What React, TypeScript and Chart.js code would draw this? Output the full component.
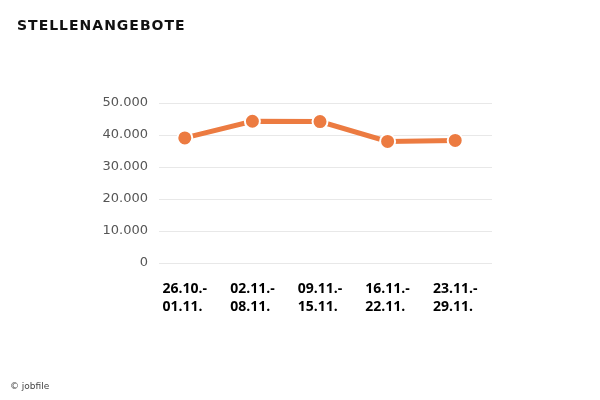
import React, { useEffect, useRef } from "react";
import { Chart, registerables } from "chart.js";

Chart.register(...registerables);

const title = "STELLENANGEBOTE";
const source = "© jobfile";
const categories: string[][] = [
  ["26.10.-", "01.11."],
  ["02.11.-", "08.11."],
  ["09.11.-", "15.11."],
  ["16.11.-", "22.11."],
  ["23.11.-", "29.11."],
];
const values = [39100, 44300, 44200, 38000, 38300];
const yTicks = [0, 10000, 20000, 30000, 40000, 50000];

const ORANGE = "#EC7B41";

const customPlugin = {
  id: "customAxes",
  beforeDatasetsDraw(chart: any) {
    const { ctx, chartArea, scales } = chart;
    ctx.save();
    ctx.strokeStyle = "#e8e8e8";
    ctx.lineWidth = 1;
    for (const v of yTicks) {
      const y = Math.round(scales.y.getPixelForValue(v)) + 0.5;
      ctx.beginPath();
      ctx.moveTo(chartArea.left + 8, y);
      ctx.lineTo(chartArea.right + 3, y);
      ctx.stroke();
    }
    ctx.restore();
  },
  afterDraw(chart: any) {
    const { ctx, chartArea, scales } = chart;
    ctx.save();
    ctx.fillStyle = "#000";
    ctx.font = "bold 14px 'Open Sans'";
    ctx.textAlign = "left";
    ctx.textBaseline = "alphabetic";
    categories.forEach((lines, i) => {
      const x = scales.x.getPixelForValue(i);
      const w = Math.max(...lines.map((l) => ctx.measureText(l).width));
      const left = x - w / 2;
      lines.forEach((l, j) => {
        ctx.fillText(l, left, chartArea.bottom + 30 + j * 18.4);
      });
    });
    ctx.restore();
  },
};

export default function App() {
  const ref = useRef<HTMLCanvasElement>(null);
  useEffect(() => {
    if (!ref.current) return;
    const chart = new Chart(ref.current, {
      type: "line",
      data: {
        labels: categories.map((c) => c.join(" ")),
        datasets: [
          {
            data: values,
            borderColor: ORANGE,
            backgroundColor: ORANGE,
            borderWidth: 5,
            pointRadius: 7.5,
            pointBorderColor: "#ffffff",
            pointBorderWidth: 2,
            pointBackgroundColor: ORANGE,
            tension: 0,
          },
        ],
      },
      options: {
        responsive: false,
        animation: false,
        devicePixelRatio: 1,
        layout: { padding: { top: 103, right: 111, left: 0, bottom: 50 } },
        plugins: { legend: { display: false }, tooltip: { enabled: false }, title: { display: false } },
        scales: {
          x: {
            offset: true,
            grid: { display: false },
            border: { display: false },
            ticks: { display: false },
            afterFit: (s: any) => {
              s.height = 87;
            },
          },
          y: {
            min: 0,
            max: 50000,
            afterBuildTicks: (s: any) => {
              s.ticks = yTicks.map((v) => ({ value: v }));
            },
            grid: { display: false, drawTicks: false },
            border: { display: false },
            ticks: {
              color: "#555",
              padding: 3,
              font: { family: "DejaVu Sans", size: 13 },
              callback: (v: any) => Number(v).toLocaleString("de-DE"),
            },
            afterFit: (s: any) => {
              s.width = 151;
            },
          },
        },
      },
      plugins: [customPlugin],
    });
    return () => chart.destroy();
  }, []);
  return (
    <div style={{ position: "absolute", left: 0, top: 0, width: 600, height: 400, background: "#fff" }}>
      <canvas ref={ref} width={600} height={400} style={{ position: "absolute", left: 0, top: 0 }} />
      <div
        style={{
          position: "absolute",
          left: 17,
          top: 16,
          fontFamily: "DejaVu Sans",
          fontWeight: "bold",
          fontSize: 14,
          letterSpacing: 1,
          color: "#111",
          lineHeight: "18px",
        }}
      >
        {title}
      </div>
      <div
        style={{
          position: "absolute",
          left: 10,
          top: 380,
          fontFamily: "DejaVu Sans",
          fontSize: 9,
          color: "#444",
          lineHeight: "12px",
        }}
      >
        {source}
      </div>
    </div>
  );
}
